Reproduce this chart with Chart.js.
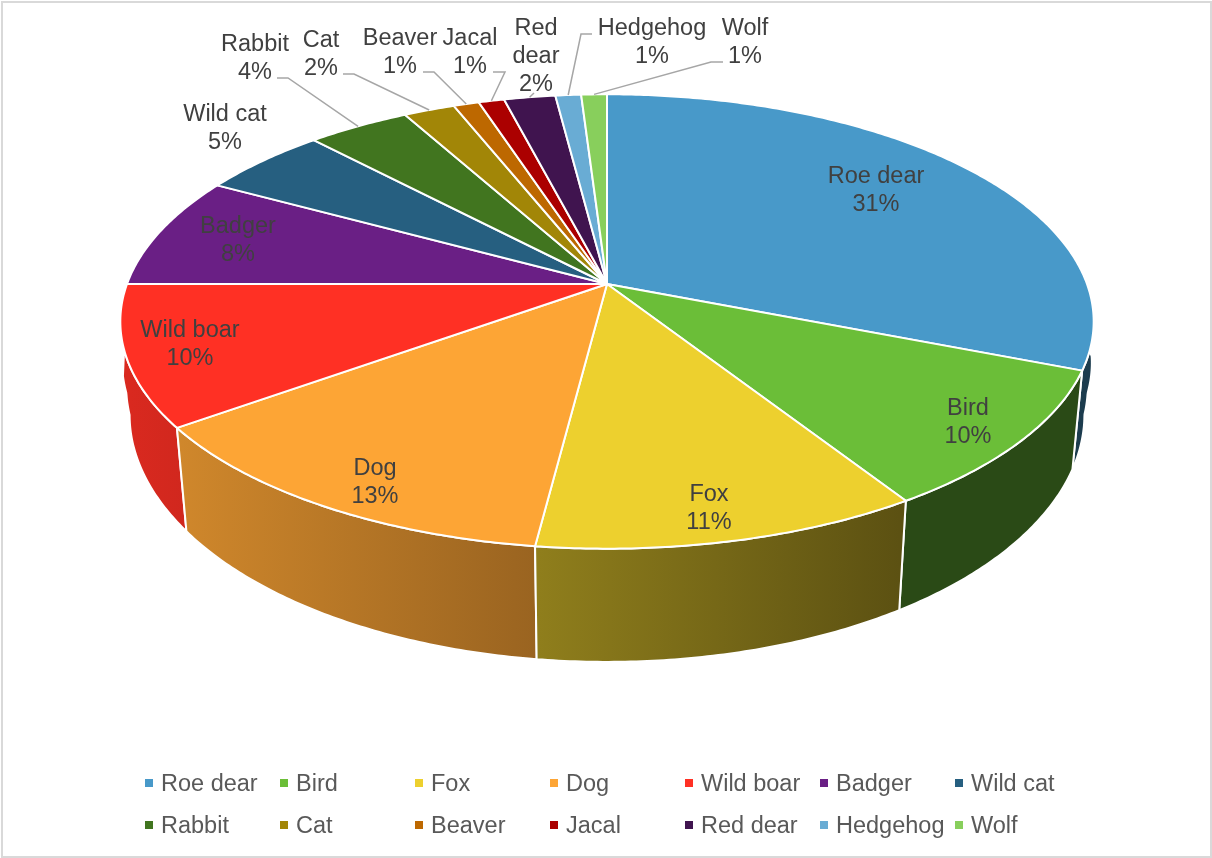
<!DOCTYPE html>
<html>
<head>
<meta charset="utf-8">
<title>Animal species share</title>
<script src="https://cdn.jsdelivr.net/npm/chart.js@4"></script>
<style>
  body { margin: 0; background: #fff; }
  #wrap { position: relative; width: 1212px; height: 858px; }
  #frame {
    position: absolute; left: 1px; top: 1px; right: 0; bottom: 0;
    border: 2px solid #d9d9d9; box-sizing: border-box; pointer-events: none;
  }
</style>
</head>
<body>
<div id="wrap">
  <canvas id="pie" width="1212" height="858"></canvas>
  <div id="frame"></div>
</div>
<script>
const categories = ["Roe dear", "Bird", "Fox", "Dog", "Wild boar", "Badger", "Wild cat",
  "Rabbit", "Cat", "Beaver", "Jacal", "Red dear", "Hedgehog", "Wolf"];
const shares = [31, 10, 11, 13, 10, 8, 5, 4, 2, 1, 1, 2, 1, 1];
const sliceColors = ["#4899c9", "#6bbe38", "#edd02e", "#fda535", "#ff3024", "#6a1f85", "#265f80",
  "#41751f", "#a28607", "#bd6800", "#ab0000", "#40144f", "#69acd4", "#88cf5c"];

// where each data label sits: centre x, first line y
const labelSpots = [[876, 177], [968, 409], [709, 495], [375, 469], [190, 331], [238, 227], [225, 115],
  [255, 45], [321, 41], [400, 39], [470, 39], [536, 29], [652, 29], [745, 29]];
// leader lines for the small slices, label end first, the rim end comes from the arc
const leaders = {
  7: [[277, 78], [288, 78]],
  8: [[343, 74], [354, 74]],
  9: [[423, 72], [434, 72]],
  10: [[493, 72], [505, 72]],
  11: [[534, 93]],
  12: [[592, 34], [581, 34]],
  13: [[723, 62], [711, 62]],
};

// tilted disc: circle seen in perspective, apex sits above the ellipse centre
const cx = 607, cy = 284, radX = 480, radY = 221, persp = 0.165;

function rim(angle) {
  const t = angle + Math.PI / 2;
  const u = Math.sin(t), v = -Math.cos(t);
  const w = 1 - persp * v;
  return { x: cx + radX * u / w, y: cy + radY * v / w };
}

// wall narrows towards the front, flares a little at the far sides
function squeeze(y) {
  if (y <= 265) return -0.028;
  if (y <= 300) return -0.028 + 0.036 * (y - 265) / 35;
  if (y <= 320) return 0.008 + 0.011 * (y - 300) / 20;
  if (y <= 420) return 0.019 + 0.003 * (y - 320) / 100;
  return 0.022;
}

// lower edge of the wall under a rim point
function under(p) {
  return { x: p.x - squeeze(p.y) * (p.x - cx), y: 1.0806 * p.y + 69 };
}

function rimPoints(start, end) {
  const pts = [];
  const n = Math.max(4, Math.ceil((end - start) / 0.01));
  for (let i = 0; i <= n; i++) pts.push(rim(start + (end - start) * i / n));
  return pts;
}

function shade(hex, f) {
  const n = parseInt(hex.slice(1), 16);
  const r = Math.round((n >> 16) * f), g = Math.round(((n >> 8) & 255) * f), b = Math.round((n & 255) * f);
  return `rgb(${r},${g},${b})`;
}

function wallFill(ctx, color) {
  const grad = ctx.createLinearGradient(130, 0, 1080, 0);
  grad.addColorStop(0, shade(color, 0.85));
  grad.addColorStop(0.81, shade(color, 0.39));
  grad.addColorStop(1, shade(color, 0.39));
  return grad;
}

const disc3d = {
  id: "disc3d",
  beforeDatasetsDraw(chart) {
    const ctx = chart.ctx;
    const arcs = chart.getDatasetMeta(0).data;
    ctx.save();
    ctx.lineJoin = "round";
    ctx.strokeStyle = "#fff";

    // walls, back slices first
    const order = arcs.map((a, i) => i).sort((a, b) => {
      const mid = (arc) => -Math.cos((arc.startAngle + arc.endAngle) / 2 + Math.PI / 2);
      return mid(arcs[a]) - mid(arcs[b]);
    });
    ctx.lineWidth = 2;
    order.forEach((i) => {
      const arc = arcs[i];
      const top = rimPoints(arc.startAngle, arc.endAngle);
      const low = top.map(under).reverse();
      ctx.beginPath();
      top.concat(low).forEach((p, j) => (j ? ctx.lineTo(p.x, p.y) : ctx.moveTo(p.x, p.y)));
      ctx.closePath();
      ctx.fillStyle = wallFill(ctx, arc.options.backgroundColor);
      ctx.fill();
      ctx.stroke();
    });

    // top face
    arcs.forEach((arc) => {
      ctx.beginPath();
      ctx.moveTo(cx, cy);
      rimPoints(arc.startAngle, arc.endAngle).forEach((p) => ctx.lineTo(p.x, p.y));
      ctx.closePath();
      ctx.fillStyle = arc.options.backgroundColor;
      ctx.fill();
      ctx.stroke();
    });
    ctx.restore();
    return false;
  },
  afterDraw(chart) {
    const ctx = chart.ctx;
    const arcs = chart.getDatasetMeta(0).data;
    ctx.save();

    // leader lines
    ctx.strokeStyle = "#a6a6a6";
    ctx.lineWidth = 1.5;
    Object.keys(leaders).forEach((i) => {
      const end = rim((arcs[i].startAngle + arcs[i].endAngle) / 2);
      ctx.beginPath();
      leaders[i].forEach((p, j) => (j ? ctx.lineTo(p[0], p[1]) : ctx.moveTo(p[0], p[1])));
      ctx.lineTo(end.x, end.y);
      ctx.stroke();
    });

    // data labels
    ctx.font = "23.5px 'Liberation Sans'";
    ctx.fillStyle = "#404040";
    ctx.textAlign = "center";
    ctx.textBaseline = "middle";
    categories.forEach((name, i) => {
      const lines = name === "Red dear" ? ["Red", "dear"] : [name];
      lines.push(shares[i] + "%");
      lines.forEach((line, j) => ctx.fillText(line, labelSpots[i][0], labelSpots[i][1] + j * 28));
    });

    // legend, 7 even columns on 2 rows
    ctx.textAlign = "left";
    categories.forEach((name, i) => {
      const x = 145 + (i % 7) * 135;
      const y = i < 7 ? 783 : 825;
      ctx.fillStyle = sliceColors[i];
      ctx.fillRect(x, y - 4, 8, 8);
      ctx.fillStyle = "#595959";
      ctx.fillText(name, x + 16, y + 2);
    });
    ctx.restore();
  },
};

new Chart(document.getElementById("pie"), {
  type: "pie",
  data: {
    labels: categories,
    datasets: [{ data: shares, backgroundColor: sliceColors }],
  },
  options: {
    responsive: false,
    animation: false,
    plugins: {
      legend: { display: false },
      tooltip: { enabled: false },
    },
  },
  plugins: [disc3d],
});
</script>
</body>
</html>
